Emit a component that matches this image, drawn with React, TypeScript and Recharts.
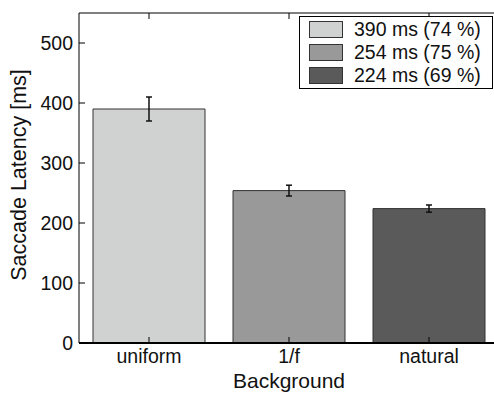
import React from 'react';
import { BarChart, Bar, XAxis, YAxis, Cell, ErrorBar, Legend } from 'recharts';

const categories = ['uniform', '1/f', 'natural'];
const latency = [390, 254, 224];
const sem = [20, 9, 6];
const hitRate = [74, 75, 69];
const yTicks = [0, 100, 200, 300, 400, 500];

const COLORS = ['#d0d2d1', '#999999', '#5a5a5a'];

const data = categories.map((name, i) => ({ name, latency: latency[i], err: sem[i] }));

const FONT = '"Liberation Sans", Arial, Helvetica, sans-serif';

function LegendBox() {
  return (
    <div
      style={{
        border: '1.5px solid #000',
        background: '#fff',
        padding: '1px 0 2px 9px',
        fontFamily: FONT,
        fontSize: 19.5,
        color: '#111',
        boxSizing: 'border-box',
        height: '100%',
      }}
    >
      {latency.map((v, i) => (
        <div key={categories[i]} style={{ display: 'flex', alignItems: 'center', height: 23 }}>
          <span
            style={{
              display: 'inline-block',
              width: 34,
              height: 17,
              background: COLORS[i],
              border: '1px solid #333',
              boxSizing: 'border-box',
              marginRight: 11,
            }}
          />
          <span>{`${v} ms (${hitRate[i]} %)`}</span>
        </div>
      ))}
    </div>
  );
}

export default function App() {
  return (
    <div style={{ position: 'absolute', left: 0, top: 0, width: 494, height: 393, overflow: 'hidden', background: '#fff' }}>
      <BarChart
        width={500}
        height={393}
        data={data}
        margin={{ top: 0, right: 1, bottom: 0, left: 0 }}
        barCategoryGap="10%"
        style={{ fontFamily: FONT }}
      >
        <XAxis
          dataKey="name"
          height={50}
          tickSize={-6}
          tickMargin={12}
          axisLine={{ stroke: '#000', strokeWidth: 2 }}
          tickLine={{ stroke: '#000' }}
          tick={{ fontSize: 19.5, fill: '#111' }}
          label={{ value: 'Background', position: 'center', dy: 13, fontSize: 21, fill: '#111' }}
        />
        <XAxis
          xAxisId="top"
          orientation="top"
          dataKey="name"
          height={13}
          tickSize={-6}
          tickFormatter={() => ''}
          axisLine={{ stroke: '#000' }}
          tickLine={{ stroke: '#000' }}
        />
        <YAxis
          width={79}
          domain={[0, 550]}
          ticks={yTicks}
          tickSize={-6}
          tickMargin={12}
          axisLine={{ stroke: '#000' }}
          tickLine={{ stroke: '#000' }}
          tick={{ fontSize: 19.5, fill: '#111' }}
          label={{
            value: 'Saccade Latency [ms]',
            angle: -90,
            position: 'center',
            dx: -21,
            dy: -3,
            fontSize: 21.5,
            fill: '#111',
          }}
        />
        <Legend
          layout="vertical"
          align="center"
          verticalAlign="middle"
          content={() => <LegendBox />}
          wrapperStyle={{ top: 16, left: 299, width: 194, height: 73 }}
        />
        <Bar dataKey="latency" stroke="#333" strokeWidth={1} isAnimationActive={false}>
          {data.map((d, i) => (
            <Cell key={d.name} fill={COLORS[i]} />
          ))}
          <ErrorBar dataKey="err" width={3} stroke="#111" strokeWidth={1.5} />
        </Bar>
      </BarChart>
    </div>
  );
}
